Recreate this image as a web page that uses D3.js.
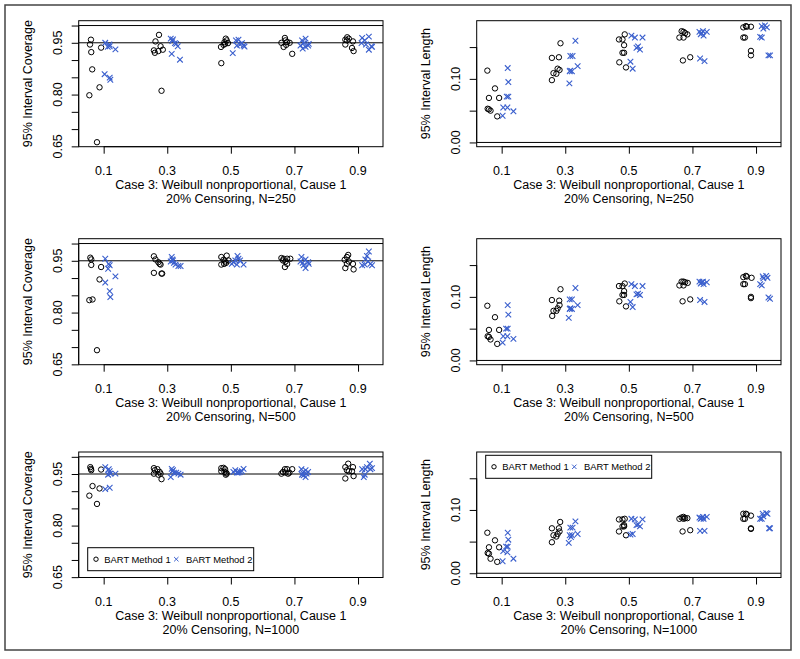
<!DOCTYPE html>
<html><head><meta charset="utf-8">
<script src="https://cdn.jsdelivr.net/npm/d3@7"></script>
<style>body{margin:0;background:#fff}svg{display:block}text{font-family:"Liberation Sans",Arial,sans-serif;fill:#000}</style>
</head><body>
<svg id="c" width="800" height="659"></svg>
<script>
// ---------- data ----------
const levels = [0.1, 0.3, 0.5, 0.7, 0.9];
const xTickLabels = ["0.1", "0.3", "0.5", "0.7", "0.9"];
const covTicks = [0.65, 0.70, 0.75, 0.80, 0.85, 0.90, 0.95, 1.00];
const covTickLabels = ["0.65", "", "", "0.80", "", "", "0.95", ""];
const lenTicks = [0, 0.05, 0.10, 0.15];
const lenTickLabels = ["0.00", "", "0.10", ""];
const covRefLines = [0.95, 1.0];
const lenRefLines = [0];
const sampleSizes = [250, 500, 1000];
const legendLabels = ["BART Method 1", "BART Method 2"];
const xTitle = "Case 3: Weibull nonproportional, Cause 1";
const covTitle = "95% Interval Coverage";
const lenTitle = "95% Interval Length";

// coverage N=250
const cov250_m1_x = [0.060,0.057,0.061,0.064,0.055,0.087,0.079,0.092, 0.274,0.263,0.258,0.261,0.272,0.279,0.286,0.282, 0.484,0.487,0.480,0.482,0.477,0.491,0.469,0.470, 0.670,0.672,0.659,0.666,0.677,0.685,0.674,0.693, 0.866,0.871,0.860,0.884,0.860,0.881,0.886,0.865];
const cov250_m1_y = [0.959,0.945,0.923,0.873,0.798,0.821,0.662,0.936, 0.973,0.954,0.928,0.921,0.926,0.940,0.930,0.811, 0.962,0.957,0.952,0.947,0.944,0.949,0.938,0.891, 0.964,0.957,0.950,0.938,0.952,0.950,0.944,0.918, 0.966,0.962,0.959,0.954,0.945,0.935,0.926,0.957];
const cov250_m2_x = [0.105,0.118,0.113,0.119,0.137,0.103,0.119,0.121, 0.311,0.318,0.316,0.328,0.333,0.314,0.340,0.324, 0.516,0.524,0.519,0.529,0.540,0.543,0.506,0.535, 0.724,0.735,0.729,0.743,0.726,0.735,0.745,0.719, 0.913,0.934,0.921,0.911,0.925,0.934,0.942,0.944];
const cov250_m2_y = [0.950,0.945,0.938,0.940,0.931,0.859,0.849,0.843, 0.962,0.960,0.955,0.947,0.940,0.918,0.901,0.949, 0.957,0.959,0.942,0.945,0.942,0.939,0.920,0.949, 0.957,0.962,0.949,0.942,0.933,0.938,0.947,0.942, 0.964,0.968,0.957,0.949,0.945,0.930,0.940,0.938];

// length N=250
const len250_m1_x = [0.055,0.079,0.060,0.092,0.056,0.060,0.065,0.086, 0.285,0.258,0.280,0.258,0.263,0.272,0.276,0.282, 0.487,0.469,0.480,0.485,0.480,0.485,0.470,0.491, 0.666,0.672,0.677,0.684,0.659,0.672,0.670,0.693, 0.860,0.868,0.884,0.860,0.865,0.884,0.884,0.871];
const len250_m1_y = [0.113,0.085,0.070,0.070,0.053,0.052,0.050,0.041, 0.156,0.133,0.134,0.098,0.109,0.108,0.116,0.114, 0.170,0.162,0.162,0.153,0.141,0.141,0.126,0.118, 0.175,0.174,0.172,0.170,0.165,0.165,0.129,0.134, 0.181,0.183,0.182,0.165,0.165,0.144,0.137,0.182];
const len250_m2_x = [0.119,0.121,0.116,0.121,0.105,0.118,0.137,0.103, 0.332,0.316,0.323,0.314,0.321,0.339,0.313,0.316, 0.508,0.519,0.543,0.529,0.535,0.524,0.505,0.512, 0.722,0.733,0.745,0.726,0.735,0.729,0.724,0.738, 0.918,0.928,0.934,0.923,0.913,0.918,0.939,0.944];
const len250_m2_y = [0.117,0.095,0.072,0.072,0.055,0.055,0.049,0.042, 0.160,0.136,0.136,0.112,0.112,0.120,0.093,0.113, 0.168,0.165,0.165,0.151,0.146,0.149,0.127,0.116, 0.174,0.175,0.174,0.170,0.168,0.172,0.132,0.128, 0.183,0.184,0.181,0.179,0.166,0.165,0.137,0.137];

// coverage N=500
const cov500_m1_x = [0.058,0.061,0.061,0.092,0.087,0.055,0.065,0.079, 0.258,0.263,0.272,0.279,0.276,0.258,0.282,0.284, 0.470,0.487,0.477,0.482,0.470,0.485,0.493,0.479, 0.659,0.666,0.677,0.687,0.672,0.670,0.677,0.664, 0.869,0.865,0.858,0.884,0.865,0.860,0.886,0.871];
const cov500_m1_y = [0.959,0.954,0.938,0.932,0.896,0.836,0.838,0.691, 0.963,0.954,0.946,0.939,0.941,0.915,0.913,0.913, 0.961,0.965,0.953,0.948,0.939,0.944,0.951,0.941, 0.958,0.956,0.956,0.956,0.948,0.932,0.941,0.951, 0.967,0.961,0.953,0.941,0.941,0.929,0.925,0.948];
const cov500_m2_x = [0.105,0.116,0.119,0.114,0.137,0.105,0.119,0.121, 0.314,0.316,0.311,0.321,0.326,0.335,0.342,0.318, 0.503,0.514,0.521,0.524,0.529,0.540,0.508,0.519, 0.722,0.735,0.743,0.726,0.735,0.729,0.745,0.719, 0.934,0.928,0.923,0.913,0.921,0.939,0.944,0.932];
const cov500_m2_y = [0.956,0.941,0.937,0.927,0.905,0.887,0.862,0.845, 0.961,0.954,0.948,0.944,0.939,0.935,0.935,0.951, 0.941,0.951,0.964,0.956,0.951,0.939,0.946,0.939, 0.961,0.954,0.946,0.944,0.929,0.937,0.941,0.948, 0.977,0.964,0.954,0.937,0.939,0.941,0.937,0.948];

// length N=500
const len500_m1_x = [0.055,0.079,0.060,0.092,0.056,0.060,0.065,0.086, 0.285,0.258,0.281,0.263,0.276,0.272,0.282,0.259, 0.487,0.469,0.480,0.485,0.480,0.485,0.470,0.491, 0.666,0.672,0.677,0.685,0.659,0.672,0.669,0.693, 0.860,0.868,0.886,0.860,0.865,0.884,0.884,0.871];
const len500_m1_y = [0.086,0.068,0.048,0.048,0.038,0.037,0.033,0.026, 0.112,0.095,0.094,0.078,0.082,0.078,0.087,0.070, 0.121,0.117,0.117,0.109,0.103,0.103,0.093,0.085, 0.124,0.124,0.123,0.122,0.118,0.118,0.093,0.096, 0.131,0.133,0.130,0.120,0.120,0.100,0.098,0.132];
const len500_m2_x = [0.119,0.121,0.114,0.119,0.105,0.118,0.137,0.103, 0.332,0.314,0.321,0.339,0.314,0.321,0.311,0.316, 0.508,0.519,0.543,0.529,0.535,0.524,0.505,0.512, 0.722,0.733,0.745,0.726,0.735,0.729,0.724,0.738, 0.921,0.932,0.936,0.923,0.913,0.918,0.939,0.944];
const len500_m2_y = [0.087,0.072,0.050,0.050,0.038,0.038,0.034,0.028, 0.114,0.096,0.096,0.087,0.081,0.081,0.067,0.082, 0.120,0.117,0.117,0.105,0.103,0.104,0.092,0.084, 0.124,0.124,0.123,0.121,0.120,0.123,0.095,0.092, 0.132,0.133,0.130,0.129,0.120,0.118,0.099,0.097];

// coverage N=1000
const cov1000_m1_x = [0.058,0.060,0.061,0.092,0.065,0.087,0.055,0.079, 0.258,0.261,0.269,0.276,0.258,0.272,0.279,0.282, 0.470,0.477,0.482,0.470,0.480,0.485,0.487,0.484, 0.670,0.677,0.693,0.664,0.659,0.672,0.680,0.684, 0.869,0.860,0.884,0.865,0.871,0.886,0.860,0.881];
const cov1000_m1_y = [0.970,0.965,0.961,0.963,0.915,0.908,0.887,0.863, 0.967,0.961,0.964,0.956,0.951,0.948,0.951,0.935, 0.967,0.968,0.964,0.958,0.956,0.954,0.951,0.948, 0.964,0.964,0.964,0.956,0.951,0.954,0.951,0.954, 0.980,0.970,0.970,0.961,0.958,0.944,0.937,0.958];
const cov1000_m2_x = [0.105,0.116,0.119,0.121,0.137,0.114,0.105,0.119, 0.314,0.318,0.316,0.321,0.328,0.311,0.342,0.335, 0.508,0.514,0.521,0.529,0.540,0.524,0.535,0.519, 0.722,0.735,0.726,0.743,0.729,0.735,0.724,0.738, 0.937,0.928,0.923,0.913,0.921,0.918,0.939,0.944];
const cov1000_m2_y = [0.970,0.964,0.958,0.951,0.951,0.948,0.906,0.910, 0.965,0.961,0.958,0.954,0.954,0.941,0.948,0.951, 0.956,0.961,0.956,0.956,0.965,0.954,0.958,0.954, 0.964,0.961,0.954,0.956,0.946,0.941,0.948,0.951, 0.980,0.970,0.964,0.964,0.948,0.941,0.964,0.967];

// length N=1000
const len1000_m1_x = [0.055,0.079,0.060,0.092,0.056,0.060,0.065,0.086, 0.284,0.258,0.280,0.258,0.263,0.272,0.276,0.282, 0.487,0.469,0.480,0.485,0.480,0.485,0.469,0.491, 0.666,0.672,0.677,0.684,0.659,0.672,0.669,0.693, 0.860,0.868,0.884,0.860,0.865,0.884,0.884,0.871];
const len1000_m1_y = [0.064,0.052,0.041,0.041,0.032,0.031,0.023,0.018, 0.081,0.071,0.071,0.049,0.060,0.058,0.062,0.066, 0.086,0.085,0.085,0.076,0.074,0.074,0.066,0.060, 0.088,0.089,0.087,0.087,0.086,0.086,0.066,0.068, 0.094,0.094,0.091,0.086,0.086,0.071,0.070,0.093];
const len1000_m2_x = [0.119,0.121,0.114,0.119,0.105,0.118,0.137,0.103, 0.332,0.316,0.323,0.339,0.314,0.321,0.311,0.318, 0.508,0.519,0.543,0.529,0.535,0.524,0.505,0.512, 0.722,0.733,0.745,0.726,0.735,0.729,0.724,0.738, 0.921,0.932,0.936,0.923,0.913,0.918,0.941,0.944];
const len1000_m2_y = [0.064,0.053,0.042,0.042,0.035,0.033,0.023,0.019, 0.082,0.072,0.072,0.062,0.060,0.060,0.048,0.057, 0.086,0.085,0.085,0.077,0.074,0.076,0.061,0.062, 0.088,0.089,0.089,0.086,0.086,0.087,0.067,0.067, 0.094,0.095,0.094,0.090,0.086,0.086,0.071,0.071];

// ---------- layout ----------
const colLeft = [78.7, 476.7];
const boxW = 304.3;
const rowTop = [20.7, 238.7, 452];
const rowBottom = [146.7, 364.7, 577.5];
const xDomain = [0.0215, 0.9785];
const covDomain = [0.649, 1.014];
const lenDomain = [-0.0067, 0.1915];
const BLUE = "#3A5FCD";
const FS = 12.5;

const svg = d3.select("#c");
svg.append("rect").attr("x", 5).attr("y", 5).attr("width", 786).attr("height", 645)
  .attr("fill", "none").attr("stroke", "#444").attr("stroke-width", 1.5);

const panels = [
  {row:0,col:0,type:"cov",n:sampleSizes[0],m1x:cov250_m1_x,m1y:cov250_m1_y,m2x:cov250_m2_x,m2y:cov250_m2_y},
  {row:0,col:1,type:"len",n:sampleSizes[0],m1x:len250_m1_x,m1y:len250_m1_y,m2x:len250_m2_x,m2y:len250_m2_y},
  {row:1,col:0,type:"cov",n:sampleSizes[1],m1x:cov500_m1_x,m1y:cov500_m1_y,m2x:cov500_m2_x,m2y:cov500_m2_y},
  {row:1,col:1,type:"len",n:sampleSizes[1],m1x:len500_m1_x,m1y:len500_m1_y,m2x:len500_m2_x,m2y:len500_m2_y},
  {row:2,col:0,type:"cov",n:sampleSizes[2],m1x:cov1000_m1_x,m1y:cov1000_m1_y,m2x:cov1000_m2_x,m2y:cov1000_m2_y,legend:"bottom"},
  {row:2,col:1,type:"len",n:sampleSizes[2],m1x:len1000_m1_x,m1y:len1000_m1_y,m2x:len1000_m2_x,m2y:len1000_m2_y,legend:"top"}
];

function drawCross(g, cx, cy, h, sw) {
  g.append("path").attr("d", `M${cx-h},${cy-h}L${cx+h},${cy+h}M${cx-h},${cy+h}L${cx+h},${cy-h}`)
    .attr("stroke", BLUE).attr("stroke-width", sw).attr("fill", "none");
}

panels.forEach(p => {
  const L = colLeft[p.col], R = L + boxW, T = rowTop[p.row], B = rowBottom[p.row];
  const x = d3.scaleLinear().domain(xDomain).range([L, R]);
  const isCov = p.type === "cov";
  const y = d3.scaleLinear().domain(isCov ? covDomain : lenDomain).range([B, T]);
  const ticks = isCov ? covTicks : lenTicks;
  const tlabels = isCov ? covTickLabels : lenTickLabels;
  const g = svg.append("g");

  // x axis
  const xAxis = d3.axisBottom(x).tickValues(levels).tickSize(7).tickFormat(() => "");
  const gx = g.append("g").attr("transform", `translate(0,${B})`).call(xAxis);
  gx.select(".domain").attr("d", `M${x(levels[0])},0H${x(levels[levels.length-1])}`).attr("stroke", "#000");
  gx.selectAll(".tick line").attr("stroke", "#000");
  levels.forEach((v, i) => {
    g.append("text").attr("x", x(v)).attr("y", B + 28.6).attr("text-anchor", "middle")
      .attr("font-size", FS).text(xTickLabels[i]);
  });
  g.append("text").attr("x", (L + R) / 2).attr("y", B + 42.4).attr("text-anchor", "middle")
    .attr("font-size", FS).text(xTitle);
  g.append("text").attr("x", (L + R) / 2).attr("y", B + 56.2).attr("text-anchor", "middle")
    .attr("font-size", FS).text(`20% Censoring, N=${p.n}`);

  // y axis
  const yAxis = d3.axisLeft(y).tickValues(ticks).tickSize(7).tickFormat(() => "");
  const gy = g.append("g").attr("transform", `translate(${L},0)`).call(yAxis);
  gy.select(".domain").attr("d", `M0,${y(ticks[0])}V${y(ticks[ticks.length-1])}`).attr("stroke", "#000");
  gy.selectAll(".tick line").attr("stroke", "#000");
  ticks.forEach((v, i) => {
    if (!tlabels[i]) return;
    g.append("text").attr("transform", `translate(${L - 17},${y(v)}) rotate(-90)`)
      .attr("text-anchor", "middle").attr("font-size", FS).text(tlabels[i]);
  });
  g.append("text").attr("transform", `translate(${L - 47},${(T + B) / 2}) rotate(-90)`)
    .attr("text-anchor", "middle").attr("font-size", FS).text(isCov ? covTitle : lenTitle);

  // reference lines
  (isCov ? covRefLines : lenRefLines).forEach(v => {
    g.append("line").attr("x1", L).attr("x2", R).attr("y1", y(v)).attr("y2", y(v))
      .attr("stroke", "#000").attr("stroke-width", 1);
  });

  // points
  g.selectAll("circle.m1").data(d3.range(p.m1x.length)).join("circle")
    .attr("cx", i => x(p.m1x[i])).attr("cy", i => y(p.m1y[i])).attr("r", 2.7)
    .attr("fill", "none").attr("stroke", "#000").attr("stroke-width", 1);
  d3.range(p.m2x.length).forEach(i => drawCross(g, x(p.m2x[i]), y(p.m2y[i]), 2.8, 1.1));

  // box
  g.append("rect").attr("x", L).attr("y", T).attr("width", R - L).attr("height", B - T)
    .attr("fill", "none").attr("stroke", "#000").attr("stroke-width", 1);

  // legend
  if (p.legend) {
    const lx = L + 9, lw = 166, lh = 23;
    const ly = p.legend === "bottom" ? B - 6.8 - lh : T + 3.3;
    const lg = g.append("g");
    lg.append("rect").attr("x", lx).attr("y", ly).attr("width", lw).attr("height", lh)
      .attr("fill", "#fff").attr("stroke", "#000").attr("stroke-width", 1);
    const cy = ly + lh / 2;
    lg.append("circle").attr("cx", lx + 8.3).attr("cy", cy).attr("r", 2.2)
      .attr("fill", "none").attr("stroke", "#000").attr("stroke-width", 1);
    lg.append("text").attr("x", lx + 16.6).attr("y", cy + 3.4).attr("font-size", 9.4).text(legendLabels[0]);
    drawCross(lg, lx + 88.6, cy, 2.2, 1);
    lg.append("text").attr("x", lx + 98.3).attr("y", cy + 3.4).attr("font-size", 9.4).text(legendLabels[1]);
  }
});
</script>
</body></html>
